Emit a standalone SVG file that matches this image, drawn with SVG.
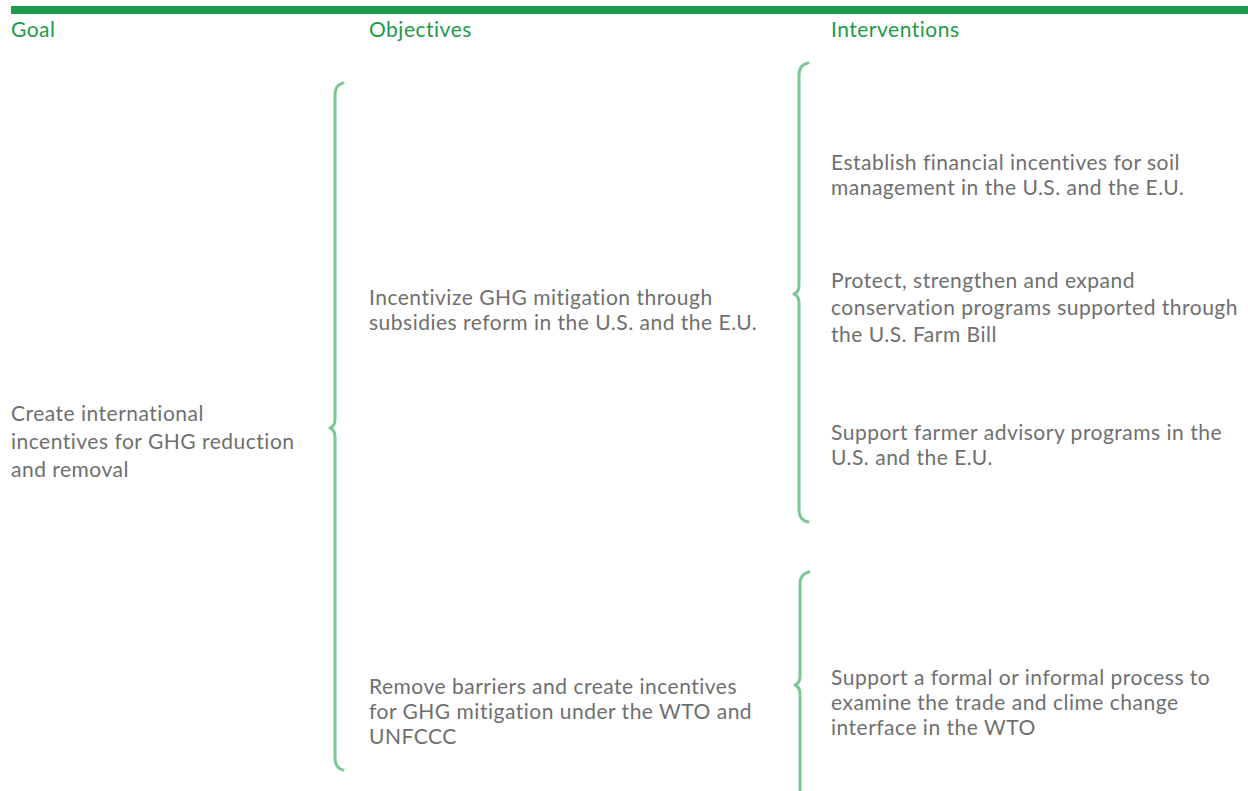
<svg xmlns="http://www.w3.org/2000/svg" width="1248" height="791" viewBox="0 0 1248 791">
<style>
.h{font-family:Lato,"Open Sans",sans-serif;font-size:21px;letter-spacing:0.5px;fill:#1e9a4a}
.t{font-family:Lato,"Open Sans",sans-serif;font-size:21px;letter-spacing:0.5px;fill:#6f6f6f}
.b{fill:none;stroke:#7cc793;stroke-width:3;stroke-linecap:round;stroke-linejoin:round}
</style>
<rect x="11" y="6" width="1237" height="8" fill="#1e9a4a"/>
<g id="headers">
<text class="h" x="11" y="37">Goal</text>
<text class="h" x="369" y="37">Objectives</text>
<text class="h" x="831" y="37">Interventions</text>
</g>
<g id="connectors">
<path class="b" d="M343,83 Q335,85 335,95 L335,419 Q335,426 330,428 Q335,430 335,437 L335,758 Q335,768 343,770"/>
<path class="b" d="M808,63 Q799,65 799,75 L799,285 Q799,292 794,294 Q799,296 799,303 L799,510 Q799,520 808,522"/>
<path class="b" d="M809,572 Q800,574 800,584 L800,676 Q800,683 795,685 Q800,687 800,694 L800,795"/>
</g>
<g id="goal">
<text class="t" x="11" y="421">Create international</text>
<text class="t" x="11" y="449">incentives for GHG reduction</text>
<text class="t" x="11" y="477">and removal</text>
</g>
<g id="obj1">
<text class="t" x="369" y="305">Incentivize GHG mitigation through</text>
<text class="t" x="369" y="330">subsidies reform in the U.S. and the E.U.</text>
</g>
<g id="obj2">
<text class="t" x="369" y="694">Remove barriers and create incentives</text>
<text class="t" x="369" y="719">for GHG mitigation under the WTO and</text>
<text class="t" x="369" y="744">UNFCCC</text>
</g>
<g id="int1">
<text class="t" x="831" y="170">Establish financial incentives for soil</text>
<text class="t" x="831" y="195">management in the U.S. and the E.U.</text>
</g>
<g id="int2">
<text class="t" x="831" y="288">Protect, strengthen and expand</text>
<text class="t" x="831" y="315">conservation programs supported through</text>
<text class="t" x="831" y="342">the U.S. Farm Bill</text>
</g>
<g id="int3">
<text class="t" x="831" y="440">Support farmer advisory programs in the</text>
<text class="t" x="831" y="465">U.S. and the E.U.</text>
</g>
<g id="int4">
<text class="t" x="831" y="685">Support a formal or informal process to</text>
<text class="t" x="831" y="710">examine the trade and clime change</text>
<text class="t" x="831" y="735">interface in the WTO</text>
</g>
</svg>
